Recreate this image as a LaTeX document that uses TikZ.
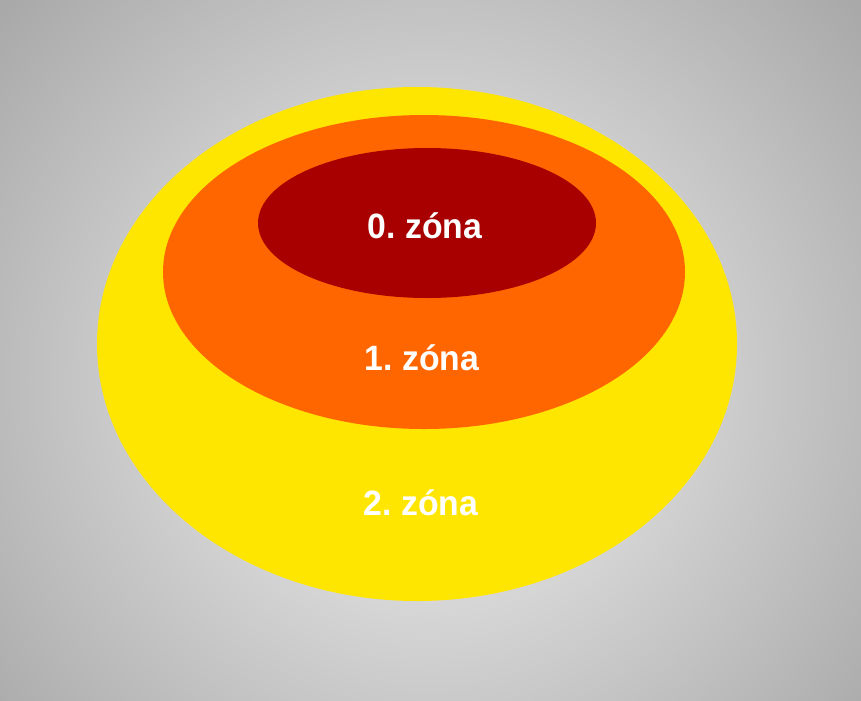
\documentclass[tikz,border=0pt]{standalone}
\usepackage{fontspec}
\setmainfont{Liberation Sans}
\usepackage{tikz}
\usetikzlibrary{shapes.geometric, calc}

\definecolor{zoneyellow}{HTML}{FFE600}
\definecolor{zoneorange}{HTML}{FF6600}
\definecolor{zonered}{HTML}{A80000}
\definecolor{bginner}{HTML}{F4F4F4}
\definecolor{bgouter}{HTML}{A9A9A9}

\tikzset{
    zonelabel/.style={text=white, font=\fontsize{10}{12}\selectfont\bfseries\frenchspacing, inner sep=0pt}
}

\begin{document}
\begin{tikzpicture}[x=0.01cm, y=-0.01cm]

    % Background with a radial gray gradient
    \useasboundingbox (0,0) rectangle (861,700);
    \begin{scope}
        \clip (0,0) rectangle (861,700);
        \fill[bgouter] (0,0) rectangle (861,700);
        \shade[inner color=bginner, outer color=bgouter] (430,380) circle (565);
    \end{scope}

    % Draw the nested zones
    \fill[zoneyellow] (417,344) ellipse [x radius=320, y radius=257];
    \fill[zoneorange] (424,272) ellipse [x radius=261, y radius=157];
    \fill[zonered] (427,223) ellipse [x radius=169, y radius=75];

    % Label the zones
    \node[zonelabel, xscale=0.96] (zone0) at (425,226) {0. zóna};
    \node[zonelabel, xscale=0.96] (zone1) at (422,358) {1. zóna};
    \node[zonelabel, xscale=0.96] (zone2) at (421,503) {2. zóna};

\end{tikzpicture}
\end{document}
